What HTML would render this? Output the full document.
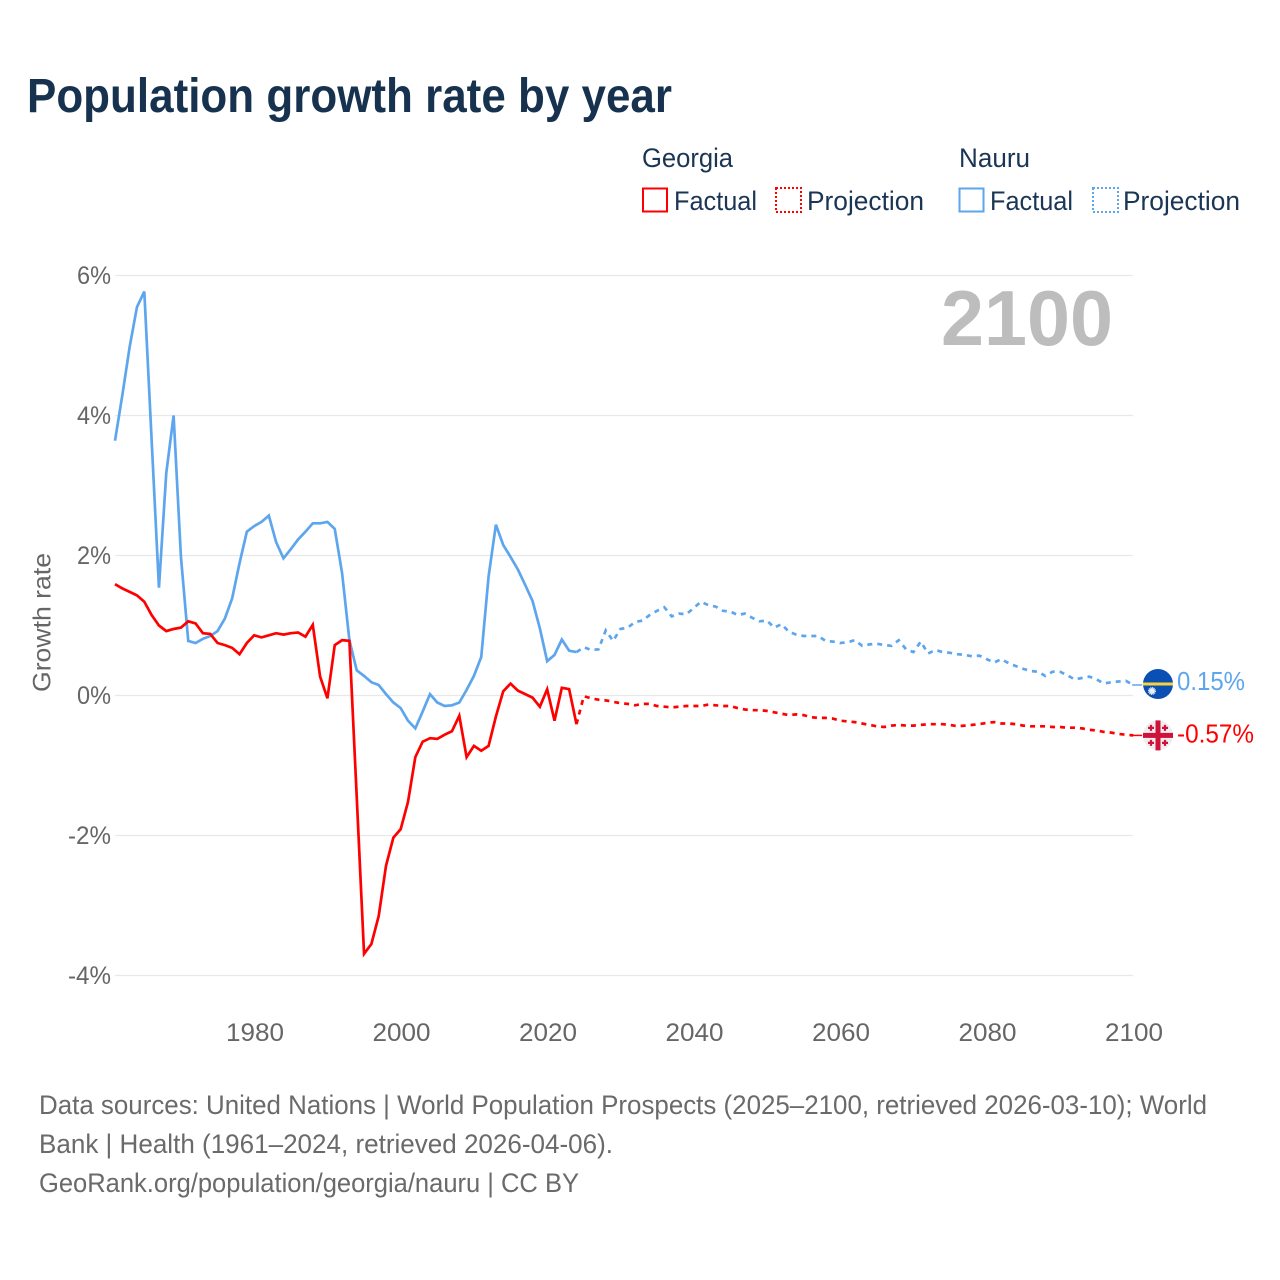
<!DOCTYPE html>
<html lang="en">
<head>
<meta charset="utf-8">
<title>Population growth rate by year</title>
<style>
html,body{margin:0;padding:0;background:#fff;}
svg{display:block;font-family:"Liberation Sans",sans-serif;}
</style>
</head>
<body>
<svg id="chart" xmlns="http://www.w3.org/2000/svg" width="1280" height="1280" viewBox="0 0 1280 1280">
  <rect x="0" y="0" width="1280" height="1280" fill="#ffffff"/>
  <text x="27" y="112" font-size="48" font-weight="700" fill="#17324f" textLength="645" lengthAdjust="spacingAndGlyphs">Population growth rate by year</text>

  <g font-size="27" fill="#1b3554">
    <text x="642" y="167" textLength="91" lengthAdjust="spacingAndGlyphs">Georgia</text>
    <text x="959" y="167" textLength="71" lengthAdjust="spacingAndGlyphs">Nauru</text>
    <g>
      <rect x="643" y="188.500" width="24" height="23" fill="none" stroke="#ff0000" stroke-width="2"/>
      <text x="674" y="210" textLength="83" lengthAdjust="spacingAndGlyphs">Factual</text>
    </g>
    <g>
      <rect x="776" y="188" width="25" height="24" fill="none" stroke="#ff0000" stroke-width="2" stroke-dasharray="2,2"/>
      <text x="807" y="210" textLength="117" lengthAdjust="spacingAndGlyphs">Projection</text>
    </g>
    <g>
      <rect x="959.500" y="188.500" width="24" height="23" fill="none" stroke="#5da6ee" stroke-width="2"/>
      <text x="990" y="210" textLength="83" lengthAdjust="spacingAndGlyphs">Factual</text>
    </g>
    <g>
      <rect x="1093" y="188" width="25" height="24" fill="none" stroke="#5da6ee" stroke-width="2" stroke-dasharray="2,2"/>
      <text x="1123" y="210" textLength="117" lengthAdjust="spacingAndGlyphs">Projection</text>
    </g>
  </g>

  <g id="grid"></g>
  <text x="941" y="345" font-size="78" font-weight="700" fill="#bdbdbd" textLength="172" lengthAdjust="spacingAndGlyphs">2100</text>
  <g id="yticks" font-size="25" fill="#666666" text-anchor="end"></g>
  <g id="xticks" font-size="25" fill="#666666" text-anchor="middle"></g>
  <text transform="translate(50.500,692) rotate(-90)" font-size="25" fill="#666666" textLength="139" lengthAdjust="spacingAndGlyphs">Growth rate</text>
  <g id="series"></g>

  <g id="flag-nauru">
    <circle cx="0" cy="0" r="15" fill="#0a50b4"/>
    <rect x="-15" y="-1.500" width="30" height="3" fill="#f7d33c"/>
    <circle cx="-6" cy="7" r="3" fill="#e8eef6"/>
    <circle cx="-6" cy="7" r="3.500" fill="none" stroke="#e8eef6" stroke-width="1" stroke-dasharray="1.100,0.730"/>
  </g>
  <g id="flag-georgia">
    <circle cx="0" cy="0" r="15" fill="#eeeeee"/>
    <rect x="-2.500" y="-15" width="5" height="30" fill="#d2103c"/>
    <rect x="-15" y="-2.500" width="30" height="5" fill="#d2103c"/>
    <path d="M-7 -10.500v6M-10 -7.500h6M7 -10.500v6M4 -7.500h6M-7 4.500v6M-10 7.500h6M7 4.500v6M4 7.500h6" stroke="#d2103c" stroke-width="2.200" fill="none"/>
  </g>
  <text id="label-nauru" x="1177" font-size="26" fill="#5da6ee" textLength="68" lengthAdjust="spacingAndGlyphs"></text>
  <text id="label-georgia" x="1177" font-size="26" fill="#ff0000" textLength="77" lengthAdjust="spacingAndGlyphs"></text>

  <g font-size="27" fill="#6a6a6a">
    <text x="39" y="1114" textLength="1168" lengthAdjust="spacingAndGlyphs">Data sources: United Nations | World Population Prospects (2025–2100, retrieved 2026-03-10); World</text>
    <text x="39" y="1153" textLength="574" lengthAdjust="spacingAndGlyphs">Bank | Health (1961–2024, retrieved 2026-04-06).</text>
    <text x="39" y="1192" textLength="540" lengthAdjust="spacingAndGlyphs">GeoRank.org/population/georgia/nauru | CC BY</text>
  </g>
</svg>
<script>
const factualStartYear = 1961;
const projectionStartYear = 2025;
const xTickYears = [1980, 2000, 2020, 2040, 2060, 2080, 2100];
const yTickValues = [6, 4, 2, 0, -2, -4];
const yTickLabels = ["6%", "4%", "2%", "0%", "-2%", "-4%"];

const georgiaFactual = [1.59,1.53,1.48,1.43,1.34,1.15,1.00,0.92,0.95,0.97,1.06,1.03,0.89,0.88,0.75,0.72,0.68,0.59,0.75,0.86,
  0.83,0.86,0.89,0.87,0.89,0.90,0.84,1.01,0.27,-0.04,0.72,0.79,0.78,-1.45,-3.69,-3.55,-3.15,-2.43,-2.03,-1.91,
  -1.52,-0.88,-0.66,-0.61,-0.62,-0.56,-0.51,-0.29,-0.88,-0.72,-0.79,-0.72,-0.30,0.06,0.17,0.07,0.02,-0.03,-0.16,0.09,
  -0.36,0.11,0.09,-0.41];
const georgiaProjection = [-0.01,-0.04,-0.06,-0.07,-0.09,-0.11,-0.12,-0.14,-0.12,-0.12,-0.15,-0.16,-0.17,-0.16,-0.15,-0.15,
  -0.15,-0.13,-0.14,-0.15,-0.15,-0.18,-0.20,-0.21,-0.21,-0.22,-0.24,-0.26,-0.28,-0.27,-0.28,-0.31,-0.32,-0.32,-0.33,-0.36,
  -0.37,-0.38,-0.40,-0.42,-0.44,-0.45,-0.43,-0.42,-0.43,-0.43,-0.42,-0.41,-0.41,-0.41,-0.42,-0.44,-0.43,-0.42,-0.41,-0.39,
  -0.38,-0.40,-0.40,-0.41,-0.43,-0.44,-0.44,-0.44,-0.45,-0.45,-0.46,-0.46,-0.47,-0.49,-0.50,-0.52,-0.53,-0.55,-0.56,-0.57];
const nauruFactual = [3.64,4.29,4.98,5.55,5.77,3.65,1.54,3.18,4.00,1.98,0.78,0.75,0.81,0.85,0.92,1.10,1.39,1.89,2.34,2.42,
  2.48,2.57,2.19,1.96,2.09,2.23,2.34,2.46,2.46,2.48,2.38,1.75,0.79,0.36,0.28,0.19,0.15,0.02,-0.10,-0.18,
  -0.36,-0.47,-0.23,0.02,-0.10,-0.15,-0.14,-0.10,0.08,0.28,0.55,1.70,2.44,2.15,1.98,1.80,1.58,1.35,0.96,0.49,
  0.58,0.80,0.64,0.62];
const nauruProjection = [0.69,0.65,0.66,0.93,0.78,0.95,0.97,1.05,1.07,1.15,1.21,1.26,1.13,1.17,1.16,1.25,
  1.34,1.29,1.27,1.21,1.20,1.15,1.17,1.11,1.06,1.07,0.97,1.02,0.91,0.87,0.85,0.85,0.85,0.78,0.77,0.75,
  0.76,0.79,0.71,0.73,0.74,0.72,0.71,0.79,0.66,0.62,0.77,0.60,0.65,0.62,0.61,0.59,0.58,0.56,0.57,0.52,
  0.47,0.52,0.46,0.42,0.38,0.35,0.34,0.28,0.34,0.34,0.29,0.23,0.25,0.27,0.23,0.17,0.19,0.20,0.21,0.15];

const SVG_NS = "http://www.w3.org/2000/svg";
const xScale = function (year) { return 115 + (year - 1961) * 7.325; };
const yScale = function (value) { return 695.5 - value * 70; };

function pointsFrom(startYear, values) {
  return values.map(function (v, i) {
    return xScale(startYear + i).toFixed(2) + "," + yScale(v).toFixed(2);
  });
}

const gridLayer = document.getElementById("grid");
const yTickLayer = document.getElementById("yticks");
yTickValues.forEach(function (v, i) {
  const line = document.createElementNS(SVG_NS, "line");
  
  
  line.setAttribute("x1", 115);
  line.setAttribute("x2", 1133);
  line.setAttribute("y1", yScale(v));
  line.setAttribute("y2", yScale(v));
  line.setAttribute("stroke", "#e8e8e8");
  line.setAttribute("stroke-width", 1.3);
  gridLayer.appendChild(line);
  const label = document.createElementNS(SVG_NS, "text");
  
  
  label.setAttribute("x", 111);
  label.setAttribute("y", yScale(v) + 8.5);
  label.setAttribute("textLength", v < 0 ? 43 : 34);
  label.setAttribute("lengthAdjust", "spacingAndGlyphs");
  label.textContent = yTickLabels[i];
  yTickLayer.appendChild(label);
});

const xTickLayer = document.getElementById("xticks");
xTickYears.forEach(function (year) {
  const label = document.createElementNS(SVG_NS, "text");
  
  
  label.setAttribute("x", xScale(year) + 0.8);
  label.setAttribute("y", 1041);
  label.setAttribute("textLength", 58);
  label.setAttribute("lengthAdjust", "spacingAndGlyphs");
  label.textContent = String(year);
  xTickLayer.appendChild(label);
});

const seriesLayer = document.getElementById("series");
const lastYear = projectionStartYear + georgiaProjection.length - 1;

const nauruFactualLine = document.createElementNS(SVG_NS, "polyline");


nauruFactualLine.setAttribute("points", pointsFrom(factualStartYear, nauruFactual).join(" "));
nauruFactualLine.setAttribute("fill", "none");
nauruFactualLine.setAttribute("stroke", "#5da6ee");
nauruFactualLine.setAttribute("stroke-width", 2.7);
seriesLayer.appendChild(nauruFactualLine);

const nauruProjectionLine = document.createElementNS(SVG_NS, "polyline");


nauruProjectionLine.setAttribute("points", [xScale(projectionStartYear - 1).toFixed(2) + "," + yScale(nauruFactual[nauruFactual.length - 1]).toFixed(2)].concat(pointsFrom(projectionStartYear, nauruProjection)).join(" "));
nauruProjectionLine.setAttribute("fill", "none");
nauruProjectionLine.setAttribute("stroke", "#5da6ee");
nauruProjectionLine.setAttribute("stroke-width", 2.7);
nauruProjectionLine.setAttribute("stroke-dasharray", "5,5");
seriesLayer.appendChild(nauruProjectionLine);

const georgiaFactualLine = document.createElementNS(SVG_NS, "polyline");


georgiaFactualLine.setAttribute("points", pointsFrom(factualStartYear, georgiaFactual).join(" "));
georgiaFactualLine.setAttribute("fill", "none");
georgiaFactualLine.setAttribute("stroke", "#ff0000");
georgiaFactualLine.setAttribute("stroke-width", 2.7);
seriesLayer.appendChild(georgiaFactualLine);

const georgiaProjectionLine = document.createElementNS(SVG_NS, "polyline");


georgiaProjectionLine.setAttribute("points", [xScale(projectionStartYear - 1).toFixed(2) + "," + yScale(georgiaFactual[georgiaFactual.length - 1]).toFixed(2)].concat(pointsFrom(projectionStartYear, georgiaProjection)).join(" "));
georgiaProjectionLine.setAttribute("fill", "none");
georgiaProjectionLine.setAttribute("stroke", "#ff0000");
georgiaProjectionLine.setAttribute("stroke-width", 2.7);
georgiaProjectionLine.setAttribute("stroke-dasharray", "5,5");
seriesLayer.appendChild(georgiaProjectionLine);

const nauruEnd = nauruProjection[nauruProjection.length - 1];
const georgiaEnd = georgiaProjection[georgiaProjection.length - 1];

const nauruConnector = document.createElementNS(SVG_NS, "line");


nauruConnector.setAttribute("x1", xScale(lastYear) - 1);
nauruConnector.setAttribute("x2", xScale(lastYear) + 9);
nauruConnector.setAttribute("y1", yScale(nauruEnd));
nauruConnector.setAttribute("y2", yScale(nauruEnd));
nauruConnector.setAttribute("stroke", "#5da6ee");
nauruConnector.setAttribute("stroke-width", 1.5);
seriesLayer.appendChild(nauruConnector);

const georgiaConnector = document.createElementNS(SVG_NS, "line");


georgiaConnector.setAttribute("x1", xScale(lastYear) - 1);
georgiaConnector.setAttribute("x2", xScale(lastYear) + 9);
georgiaConnector.setAttribute("y1", yScale(georgiaEnd));
georgiaConnector.setAttribute("y2", yScale(georgiaEnd));
georgiaConnector.setAttribute("stroke", "#ff0000");
georgiaConnector.setAttribute("stroke-width", 1.5);
seriesLayer.appendChild(georgiaConnector);

document.getElementById("flag-nauru").setAttribute("transform", "translate(1158," + (yScale(nauruEnd) - 1) + ")");
document.getElementById("flag-georgia").setAttribute("transform", "translate(1158," + yScale(georgiaEnd) + ")");

const nauruLabel = document.getElementById("label-nauru");
nauruLabel.setAttribute("y", yScale(nauruEnd) + 5);
nauruLabel.textContent = nauruEnd.toFixed(2) + "%";
const georgiaLabel = document.getElementById("label-georgia");
georgiaLabel.setAttribute("y", yScale(georgiaEnd) + 7);
georgiaLabel.textContent = georgiaEnd.toFixed(2) + "%";
</script>
</body>
</html>
